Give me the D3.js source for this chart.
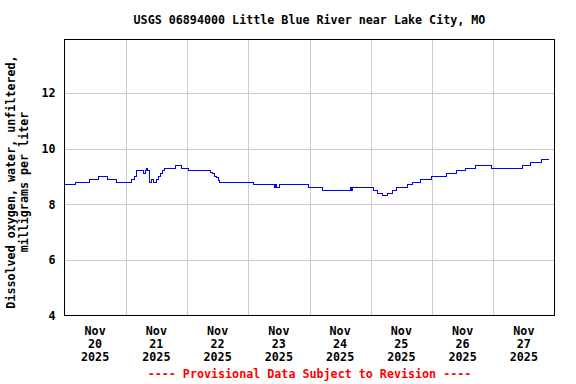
<!DOCTYPE html>
<html lang="en">

<head>
    <meta charset="UTF-8">
    <script src="https://d3js.org/d3.v7.min.js"></script>
    <style>
        html,
        body {
            margin: 0;
            padding: 0;
            overflow: hidden;
            background: #fff
        }

        svg text {
            font-family: "DejaVu Sans Mono", monospace;
            font-weight: bold;
            font-size: 11.7px;
            fill: #000;
        }

        svg .grid line {
            stroke: #cccccc;
            stroke-width: 1px;
            shape-rendering: crispEdges;
        }

        svg .grid path {
            display: none;
        }

        svg .series {
            fill: none;
            stroke: #0000ff;
            stroke-width: 1px;
            shape-rendering: crispEdges;
        }
    </style>
</head>

<body>
    <svg id="graph" width="576" height="384"></svg>
    <script>
        const title = "USGS 06894000 Little Blue River near Lake City, MO";
        const yLabel = ["Dissolved oxygen, water, unfiltered,", "milligrams per liter"];
        const footer = "---- Provisional Data Subject to Revision ----";

        // change points of the 15-minute record (value holds until the next point)
        const obsTimes = [
            "2025-11-20 00:00", "2025-11-20 04:15", "2025-11-20 09:45", "2025-11-20 13:15",
            "2025-11-20 17:00", "2025-11-20 20:30", "2025-11-21 02:15", "2025-11-21 03:30",
            "2025-11-21 04:15", "2025-11-21 07:00", "2025-11-21 07:45", "2025-11-21 08:00",
            "2025-11-21 08:30", "2025-11-21 09:30", "2025-11-21 10:00", "2025-11-21 11:00",
            "2025-11-21 12:00", "2025-11-21 12:45", "2025-11-21 13:30", "2025-11-21 14:15",
            "2025-11-21 15:15", "2025-11-21 19:30", "2025-11-21 22:00", "2025-11-22 00:30",
            "2025-11-22 09:15", "2025-11-22 10:00", "2025-11-22 10:45", "2025-11-22 11:30",
            "2025-11-22 12:15", "2025-11-22 12:45", "2025-11-23 02:00", "2025-11-23 10:15",
            "2025-11-23 10:45", "2025-11-23 11:15", "2025-11-23 12:15", "2025-11-23 23:45",
            "2025-11-24 05:00", "2025-11-24 16:15", "2025-11-24 16:30", "2025-11-24 17:00",
            "2025-11-25 01:00", "2025-11-25 02:30", "2025-11-25 04:30", "2025-11-25 06:45",
            "2025-11-25 08:30", "2025-11-25 10:15", "2025-11-25 14:30", "2025-11-25 16:15",
            "2025-11-25 19:30", "2025-11-25 23:45", "2025-11-26 05:45", "2025-11-26 09:30",
            "2025-11-26 13:00", "2025-11-26 17:00", "2025-11-26 23:30", "2025-11-27 11:30",
            "2025-11-27 14:45", "2025-11-27 19:00", "2025-11-27 22:00"
        ];
        const obsValues = [
            8.7, 8.8, 8.9, 9.0,
            8.9, 8.8, 8.9, 9.0,
            9.2, 9.1, 9.2, 9.3,
            9.2, 8.8, 8.9, 8.8,
            8.9, 9.0, 9.1, 9.2,
            9.3, 9.4, 9.3, 9.2,
            9.15, 9.1, 9.0, 8.95,
            8.85, 8.8, 8.7, 8.6,
            8.7, 8.6, 8.7, 8.6,
            8.5, 8.6, 8.5, 8.6,
            8.5, 8.4, 8.3, 8.4,
            8.5, 8.6, 8.7, 8.8,
            8.9, 9.0, 9.1, 9.2,
            9.3, 9.4, 9.3, 9.4,
            9.5, 9.6, 9.6
        ];

        const dayStarts = ["2025-11-20", "2025-11-21", "2025-11-22", "2025-11-23", "2025-11-24",
            "2025-11-25", "2025-11-26", "2025-11-27", "2025-11-28"];
        const dayLabels = ["20", "21", "22", "23", "24", "25", "26", "27"];
        const monthLabel = "Nov";
        const yearLabel = "2025";
        const yTicks = [4, 6, 8, 10, 12];

        const parseTime = d3.utcParse("%Y-%m-%d %H:%M");
        const parseDay = d3.utcParse("%Y-%m-%d");

        const m = { left: 64.5, right: 554.5, top: 39.5, bottom: 315.5 };
        const svg = d3.select("#graph");

        const days = dayStarts.map(parseDay);
        const x = d3.scaleUtc()
            .domain([days[0], days[days.length - 1]])
            .range([m.left, m.right]);
        const y = d3.scaleLinear()
            .domain([4, 13.93])
            .range([m.bottom, m.top]);

        // grid
        svg.append("g")
            .attr("class", "grid")
            .attr("transform", `translate(0,${m.bottom})`)
            .call(d3.axisBottom(x).tickValues(days.slice(1, -1)).tickSize(-(m.bottom - m.top)).tickFormat(""));
        svg.append("g")
            .attr("class", "grid")
            .attr("transform", `translate(${m.left},0)`)
            .call(d3.axisLeft(y).tickValues(yTicks.slice(1)).tickSize(-(m.right - m.left)).tickFormat(""));

        // y tick labels
        const yAxis = svg.append("g")
            .attr("transform", `translate(${m.left},0)`)
            .call(d3.axisLeft(y).tickValues(yTicks).tickSize(0).tickPadding(9));
        yAxis.select(".domain").remove();
        yAxis.attr("font-size", null).attr("font-family", null);

        // x tick labels at noon of each day
        const noons = days.slice(0, -1).map(d => d3.utcHour.offset(d, 12));
        const xLab = svg.append("g");
        noons.forEach((d, i) => {
            const t = xLab.append("text")
                .attr("x", x(d))
                .attr("y", m.bottom + 19)
                .attr("text-anchor", "middle");
            [monthLabel, dayLabels[i], yearLabel].forEach((s, j) => {
                t.append("tspan").attr("x", x(d)).attr("dy", j ? 13 : 0).text(s);
            });
        });

        // series
        const data = obsTimes.map((t, i) => ({ t: parseTime(t), v: obsValues[i] }));
        const line = d3.line()
            .x(d => x(d.t))
            .y(d => y(d.v))
            .curve(d3.curveStepAfter);
        svg.append("path")
            .datum(data)
            .attr("class", "series")
            .attr("d", line);

        // frame
        svg.append("rect")
            .attr("x", m.left).attr("y", m.top)
            .attr("width", m.right - m.left).attr("height", m.bottom - m.top)
            .attr("fill", "none").attr("stroke", "#000")
            .attr("shape-rendering", "crispEdges");

        svg.append("text")
            .attr("x", (m.left + m.right) / 2)
            .attr("y", 24)
            .attr("text-anchor", "middle")
            .text(title);

        const yl = svg.append("text")
            .attr("transform", "translate(15,182) rotate(-90)")
            .attr("text-anchor", "middle");
        yLabel.forEach((s, j) => {
            yl.append("tspan").attr("x", 0).attr("dy", j ? 13 : 0).text(s);
        });

        svg.append("text")
            .attr("x", (m.left + m.right) / 2)
            .attr("y", 378)
            .attr("text-anchor", "middle")
            .style("fill", "#ff0000")
            .text(footer);
    </script>
</body>

</html>
